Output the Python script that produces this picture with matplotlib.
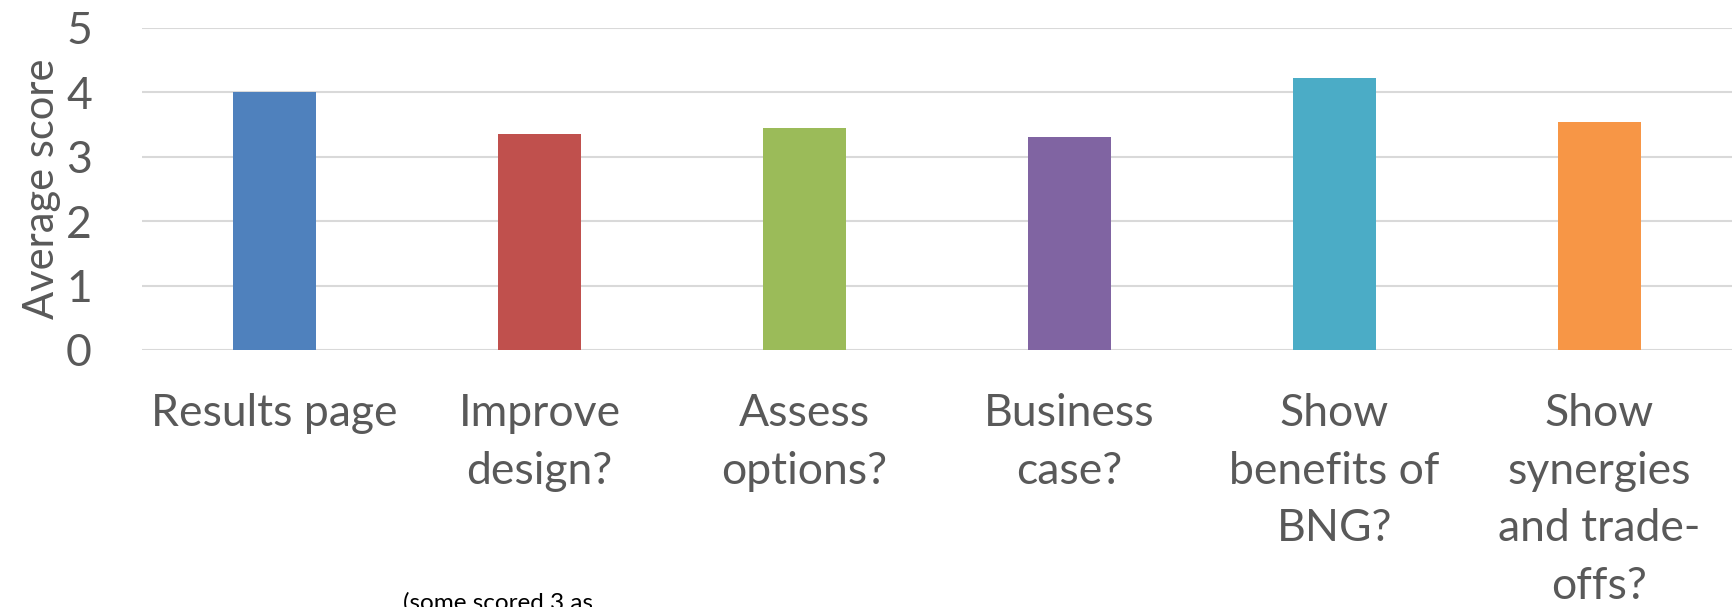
import matplotlib
matplotlib.use("Agg")
import matplotlib.pyplot as plt

plt.rcParams["font.family"] = ["Lato", "DejaVu Sans"]

# survey questions and their mean scores
questions = [
    "Results page",
    "Improve\ndesign?",
    "Assess\noptions?",
    "Business\ncase?",
    "Show\nbenefits of\nBNG?",
    "Show\nsynergies\nand trade-\noffs?",
]
scores = [4.0, 3.35, 3.45, 3.3, 4.22, 3.54]
colors = ["#4f81bd", "#c0504d", "#9bbb59", "#8064a2", "#4bacc6", "#f79646"]
yticks = [0, 1, 2, 3, 4, 5]

TEXT = "#595959"

fig = plt.figure(figsize=(17.33, 6.07), dpi=100)
ax = fig.add_axes([142 / 1733, 1 - 350 / 607, 1590 / 1733, 322 / 607])

x = range(len(questions))
ax.bar(x, scores, width=0.31, color=colors, zorder=3)

ax.set_xlim(-0.5, len(questions) - 0.5)
ax.set_ylim(0, 5)
ax.set_yticks(yticks)
ax.set_yticklabels([str(t) for t in yticks])
ax.set_xticks(list(x))
ax.set_xticklabels(questions, linespacing=1.5)

ax.grid(axis="y", color="#d9d9d9", lw=1.5, zorder=0)
for s in ax.spines.values():
    s.set_visible(False)
ax.tick_params(axis="both", length=0, colors=TEXT, labelsize=32)
ax.tick_params(axis="y", pad=36)
ax.tick_params(axis="x", pad=31)
for lab in ax.get_xticklabels():
    lab.set_verticalalignment("top")

ax.set_ylabel("Average score", fontsize=30, color=TEXT, labelpad=4)

# footnote running off the bottom edge
fig.text(403 / 1733, 1 - 592 / 607, "(some scored 3 as", fontsize=17.5,
         color="black", va="top", ha="left")

fig.savefig("out.png", dpi=100)
